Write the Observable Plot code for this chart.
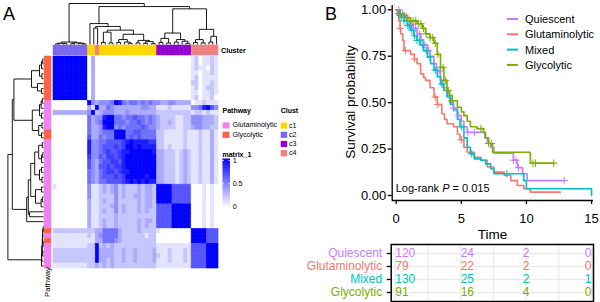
<!DOCTYPE html>
<html><head><meta charset="utf-8">
<script src="https://cdn.jsdelivr.net/npm/d3@7"></script>
<script src="https://cdn.jsdelivr.net/npm/@observablehq/plot@0.6"></script>
<style>
body{margin:0;background:#fff;}
#fig{position:relative;width:600px;height:302px;overflow:hidden;font-family:"Liberation Sans",Arial,Helvetica,sans-serif;background:#fff;}
</style></head><body><div id="fig"></div>
<script>
// ---------------- Panel A data ----------------
// consensus matrix, digits 0-9 = consensus value x 9; column groups: c2 | c1 | c4 | c1 | c3 | c4
const heatRows = [
"999999999 03 0 000000000000000 000000000 1201121",
"999999999 03 0 000000000000000 000000000 1201121",
"999999999 03 0 000000000000000 000000000 1211021",
"999999999 03 0 000000000000000 000000000 1101121",
"999999999 03 0 000000000000000 000000000 1201111",
"999999999 03 0 000000000000000 000000000 2201121",
"999999999 03 0 000000000000000 000000000 1201221",
"999999999 03 0 000000000000000 000000000 1101121",
"999999999 03 0 000000000000000 000000000 1201120",
"000000000 94 3 444598545545454 433443333 0112111",
"000000000 31 9 335433333334433 111211111 4458964",
"333333333 49 2 344433343333333 222222222 1221211",
"000000000 53 4 489955455655454 322221122 4443332",
"000000000 53 4 599955545565454 322321122 4443332",
"000000000 53 3 489945455556544 322221122 3443322",
"000000000 53 3 455599955665555 221111121 1121131",
"000000000 63 3 545599956565555 221111121 1121131",
"000000000 84 4 556666789888877 221111121 1121131",
"000000000 84 4 566676799898888 221211121 1121131",
"000000000 84 4 567667889999998 332221232 1121131",
"000000000 74 4 657767899999999 332221232 1121131",
"000000000 64 3 566776899999999 332221232 1121131",
"000000000 64 3 667677899999999 332221232 1121131",
"000000000 54 3 567767889999999 332221232 1121131",
"000000000 54 3 566676799999899 332221232 1121131",
"000000000 54 3 556666789898988 332221232 1121131",
"100000000 41 1 232342322232332 999966666 0001010",
"000000000 41 1 232342322232332 999966666 0001010",
"000000000 41 1 222242322332332 999966666 0001010",
"000000000 31 1 232242222232332 999966666 0001010",
"000000000 31 1 222342322232332 666699999 0001010",
"000000000 31 1 232242322232322 666699999 0001010",
"000000000 31 1 222232222222222 666699999 0001010",
"000000000 31 1 232232222232332 666699999 0001010",
"000000000 31 1 232232222232322 666699999 0001010",
"222222222 22 3 355553222232222 100000000 9999666",
"111111111 21 3 455553222222122 000000000 9999666",
"111111111 11 3 355543222222222 000000000 9999666",
"111111111 22 9 232322222222222 111111111 6666999",
"222222222 22 9 333322322322223 111211121 6666999",
"222222222 22 9 333322322322223 211211121 6666999",
"222222222 22 9 332322322322223 111211121 6666999",
"111111111 22 3 232322222222222 111111111 6666999"
];
const colCluster = ["c2","c2","c2","c2","c2","c2","c2","c2","c2","c1","c1","c4",
  "c1","c1","c1","c1","c1","c1","c1","c1","c1","c1","c1","c1","c1","c1","c1",
  "c3","c3","c3","c3","c3","c3","c3","c3","c3",
  "c4","c4","c4","c4","c4","c4","c4"];
const rowPathway = ["Glycolytic","Glycolytic","Glycolytic","Glycolytic","Glycolytic","Glycolytic","Glycolytic","Glycolytic","Glycolytic",
  "Glutaminolytic","Glutaminolytic","Glutaminolytic","Glutaminolytic","Glutaminolytic","Glutaminolytic",
  "Glycolytic","Glycolytic",
  "Glutaminolytic","Glutaminolytic","Glutaminolytic","Glutaminolytic","Glutaminolytic","Glutaminolytic","Glutaminolytic","Glutaminolytic","Glutaminolytic",
  "Glutaminolytic","Glutaminolytic","Glutaminolytic","Glutaminolytic","Glutaminolytic","Glutaminolytic","Glutaminolytic","Glutaminolytic","Glutaminolytic",
  "Glycolytic","Glutaminolytic","Glycolytic",
  "Glutaminolytic","Glutaminolytic","Glutaminolytic","Glutaminolytic","Glutaminolytic"];
// dendrograms: [height, left, right]; numbers are leaf indices
const colTree = [1.0,
  [0.06, [0.03, [0.015, 0, 1], [0.02, 2, 3]], [0.04, [0.02, 4, 5], [0.03, 6, [0.015, 7, 8]]]],
  [0.925,
    [0.51, 9, [0.44, [0.40, 10, 11],
      [0.35, [0.3, [0.05, 12, 13], [0.04, 14, 15]],
             [0.25, [0.12, [0.05, 16, 17], [0.06, 18, [0.03, 19, 20]]],
                    [0.1, [0.04, 21, 22], [0.07, [0.03, 23, 24], [0.02, 25, 26]]]]]]],
    [0.87,
      [0.28, [0.15, [0.05, 27, 28], [0.04, 29, 30]], [0.12, [0.06, 31, 32], [0.08, 33, [0.03, 34, 35]]]],
      [0.37, [0.12, [0.05, 36, 37], [0.04, 38, 39]], [0.2, [0.06, 40, 41], 42]]]]];
const rowTree = [0.89,
  [0.05, 0, [0.045, 1, [0.03, [0.02, 2, 3], [0.025, [0.01, 4, 5], [0.02, 6, [0.01, 7, 8]]]]]],
  [0.78,
    [0.42, 9, [0.38, [0.35, 10, 11],
      [0.32, [0.2, [0.06, 12, [0.03, 13, 14]], [0.05, 15, 16]],
             [0.22, [0.1, [0.04, 17, 18], [0.05, 19, 20]], [0.12, [0.05, 21, [0.02, 22, 23]], [0.03, 24, 25]]]]]],
    [0.74,
      [0.28, [0.12, [0.05, 26, 27], [0.04, 28, 29]], [0.1, [0.05, 30, 31], [0.06, 32, [0.03, 33, 34]]]],
      [0.3, [0.15, [0.05, 35, 36], 37], [0.1, [0.04, 38, 39], [0.05, 40, [0.02, 41, 42]]]]]]];
const clusterNames = ["c1","c2","c3","c4"];
const clusterColors = ["#FFD700","#7B68EE","#9400D3","#F08080"];
const pathwayNames = ["Glutaminolytic","Glycolytic"];
const pathwayColors = ["#EE82EE","#FF6347"];
const matrixBreaks = [0, 0.5, 1];

// ---------------- Panel B data ----------------
const groups = ["Quiescent","Glutaminolytic","Mixed","Glycolytic"];
const palette = ["#C77CFF","#F8766D","#00BFC4","#7CAE00"];
const kmQuiescent = [[0,1],[0.3,0.98],[0.6,0.96],[0.85,0.94],[1.1,0.92],[1.3,0.9],[1.6,0.87],[1.9,0.84],[2.1,0.81],[2.4,0.78],[2.6,0.75],[2.9,0.71],[3.1,0.67],[3.4,0.62],[3.6,0.58],[3.9,0.54],[4.1,0.5],[4.4,0.47],[4.7,0.43],[5.0,0.4],[5.2,0.37],[5.45,0.34],[6.8,0.31],[7.0,0.28],[7.25,0.26],[7.5,0.228],[9.0,0.19],[9.3,0.15],[9.7,0.117],[10.06,0.08],[12.9,0.08]];
const kmGlutaminolytic = [[0,1],[0.1,0.97],[0.2,0.94],[0.3,0.9],[0.35,0.87],[0.5,0.835],[0.6,0.78],[1.1,0.76],[1.4,0.735],[1.6,0.71],[1.87,0.655],[2.1,0.635],[2.25,0.62],[2.6,0.58],[2.9,0.53],[3.15,0.49],[3.5,0.44],[3.7,0.41],[3.9,0.386],[4.4,0.37],[4.7,0.33],[4.9,0.3],[5.2,0.26],[5.45,0.233],[6.0,0.206],[6.5,0.19],[7.0,0.153],[7.5,0.126],[8.3,0.108],[8.8,0.08],[9.3,0.054],[9.8,0.036],[10.3,0.018],[12.6,0.018]];
const kmMixed = [[0,1],[0.2,0.98],[0.4,0.96],[0.6,0.94],[0.85,0.915],[1.1,0.89],[1.35,0.86],[1.6,0.835],[1.85,0.81],[2.1,0.78],[2.4,0.745],[2.64,0.71],[2.9,0.675],[3.15,0.64],[3.4,0.6],[3.66,0.565],[3.9,0.53],[4.17,0.49],[4.4,0.46],[4.7,0.41],[4.9,0.37],[5.2,0.31],[5.45,0.26],[5.7,0.224],[6.0,0.197],[6.5,0.19],[6.86,0.17],[7.25,0.144],[7.5,0.117],[9.8,0.08],[10.0,0.036],[14.95,0.036],[15,0]];
const kmGlycolytic = [[0,1],[0.3,0.97],[0.7,0.955],[1.1,0.94],[1.6,0.925],[2.0,0.9],[2.25,0.87],[2.6,0.85],[2.9,0.82],[3.15,0.76],[3.4,0.69],[3.66,0.62],[3.9,0.565],[4.1,0.54],[4.3,0.51],[4.7,0.475],[5.0,0.45],[5.2,0.43],[5.45,0.4],[5.7,0.37],[6.2,0.36],[6.7,0.34],[6.86,0.31],[7.1,0.28],[7.4,0.233],[10.3,0.174],[12.1,0.174]];
const censorQuiescent = [0.2,0.5,0.8,1.2,1.5,1.8,2.2,2.5,3.3,4.4,4.8,5.5,6.0,9.0,9.2,9.4,12.9];
const censorGlutaminolytic = [0.3,0.7,1.4,3.0,3.2,5.0];
const censorMixed = [0.2,0.4,0.6,0.9,1.0,1.2,1.4,1.6,1.8,2.0,2.3,2.6,3.0,3.5,5.0,5.8,8.5];
const censorGlycolytic = [0.3,0.6,0.9,1.1,1.3,1.5,1.7,1.9,2.1,2.3,2.6,2.8,3.0,3.2,3.4,3.6,3.8,4.0,4.3,6.5,7.1,7.3,10.5,10.7,12.1];
const riskTimes = [0,5,10,15];
const riskQuiescent = [120,24,2,0];
const riskGlutaminolytic = [79,22,2,0];
const riskMixed = [130,25,2,1];
const riskGlycolytic = [91,16,4,0];
const xTicks = [0,5,10,15];
const yTicks = [0,0.25,0.5,0.75,1];
const tableGridTimes = [0,2.5,5,7.5,10,12.5,15];
const pValueText = "0.015";

// ---------------- build ----------------
const FONT = '"Liberation Sans",Arial,Helvetica,sans-serif';
const fig = document.getElementById("fig");
function place(node, left, top){node.style.position="absolute";node.style.left=left+"px";node.style.top=top+"px";fig.appendChild(node);}
const N = heatRows.length;
const idx = d3.range(N);
const cells = [];
heatRows.forEach((r, i) => r.replace(/ /g,"").split("").forEach((ch, j) => cells.push({row:i, col:j, v:+ch/9})));
function dendroSegs(tree){
  const segs=[];
  (function walk(n){
    if (typeof n === "number") return {p:n, h:0};
    const [h,a,b]=n; const A=walk(a), B=walk(b);
    segs.push({p1:A.p,h1:A.h,p2:A.p,h2:h},{p1:B.p,h1:B.h,p2:B.p,h2:h},{p1:A.p,h1:h,p2:B.p,h2:h});
    return {p:(A.p+B.p)/2, h};
  })(tree);
  return segs;
}
const bg = {background:"transparent", overflow:"visible"};

// heatmap
place(Plot.plot({width:165,height:212,margin:0,style:bg,
  x:{type:"band",domain:idx,padding:0,axis:null},
  y:{type:"band",domain:idx,padding:0,axis:null},
  color:{type:"linear",domain:[0,1],range:["#ffffff","#0000ff"]},
  marks:[Plot.cell(cells,{x:"col",y:"row",fill:"v",stroke:"v",strokeWidth:0.6})]}),53,56);
// top annotation
place(Plot.plot({width:165,height:10,margin:0,style:bg,
  x:{type:"band",domain:idx,padding:0,axis:null},
  color:{domain:clusterNames,range:clusterColors},
  marks:[Plot.cell(colCluster.map((c,i)=>({i,c})),{x:"i",fill:"c",stroke:"c",strokeWidth:0.5})]}),53,45);
// left annotation
place(Plot.plot({width:7,height:212,margin:0,style:bg,
  y:{type:"band",domain:idx,padding:0,axis:null},
  color:{domain:pathwayNames,range:pathwayColors},
  marks:[Plot.cell(rowPathway.map((p,i)=>({i,p})),{y:"i",fill:"p",stroke:"p",strokeWidth:0.5})]}),44,56);
// top dendrogram
place(Plot.plot({width:165,height:44,marginLeft:0,marginRight:0,marginTop:3,marginBottom:0,style:bg,
  x:{domain:[-0.5,N-0.5],axis:null}, y:{domain:[0,1],axis:null},
  marks:[Plot.link(dendroSegs(colTree),{x1:"p1",y1:"h1",x2:"p2",y2:"h2",stroke:"black",strokeWidth:0.9})]}),53,0);
// left dendrogram
place(Plot.plot({width:44,height:212,marginLeft:3,marginRight:1,marginTop:0,marginBottom:0,style:bg,
  x:{domain:[1,0],axis:null}, y:{domain:[-0.5,N-0.5],axis:null},
  marks:[Plot.link(dendroSegs(rowTree),{x1:"h1",y1:"p1",x2:"h2",y2:"p2",stroke:"black",strokeWidth:0.9})]}),0,56);

// KM
const kmCurves = [kmQuiescent,kmGlutaminolytic,kmMixed,kmGlycolytic];
const censors = [censorQuiescent,censorGlutaminolytic,censorMixed,censorGlycolytic];
const risks = [riskQuiescent,riskGlutaminolytic,riskMixed,riskGlycolytic];
const kmRows = kmCurves.flatMap((c,g)=>c.map(([t,s])=>({group:groups[g],t,s})));
function survAt(curve,t){let s=1;for(const [tt,ss] of curve) if(tt<=t) s=ss; return s;}
const censorRows = censors.flatMap((c,g)=>c.map(t=>({group:groups[g],t,s:survAt(kmCurves[g],t)})));
const xDomain=[-0.307,15.15], yDomain=[-0.027,1.023];
const textStyle = {background:"transparent",overflow:"visible",fontFamily:FONT,fontSize:"13px",color:"black"};
place(Plot.plot({width:300,height:240,marginLeft:91.7,marginRight:7,marginTop:5,marginBottom:40,style:textStyle,
  x:{domain:xDomain}, y:{domain:yDomain},
  color:{domain:groups,range:palette},
  marks:[
    Plot.line(kmRows,{x:"t",y:"s",z:"group",stroke:"group",curve:"step-after",strokeWidth:1.6}),
    Plot.dot(censorRows,{x:"t",y:"s",stroke:"group",symbol:"plus",r:2.5,strokeWidth:1}),
    Plot.ruleX([xDomain[0]],{stroke:"black",strokeWidth:1.3}),
    Plot.ruleY([yDomain[0]],{stroke:"black",strokeWidth:1.3}),
    Plot.axisX({ticks:xTicks,tickSize:4,tickPadding:9,strokeWidth:1.3,label:null}),
    Plot.axisY({ticks:yTicks,tickSize:4,tickPadding:2,tickFormat:d3.format(".2f"),strokeWidth:1.3,label:null})
  ]}),300,0);
// risk table
const riskRows = risks.flatMap((r,g)=>r.map((n,k)=>({group:groups[g],t:riskTimes[k],k,n})));
place(Plot.plot({width:300,height:62,marginLeft:90.7,marginRight:7,marginTop:4,marginBottom:1,style:textStyle,
  x:{domain:xDomain,axis:null}, y:{type:"point",domain:groups,padding:0.6},
  color:{domain:groups,range:palette},
  marks:[
    Plot.gridX(tableGridTimes,{stroke:"#EBEBEB",strokeOpacity:1,strokeWidth:1.3}),
    Plot.gridY(groups,{stroke:"#EBEBEB",strokeOpacity:1,strokeWidth:1.3}),
    Plot.text(riskRows.filter(d=>d.k<2),{x:"t",y:"group",text:"n",fill:"group",textAnchor:"start",fontSize:12}),
    Plot.text(riskRows.filter(d=>d.k===2),{x:"t",y:"group",text:"n",fill:"group",textAnchor:"middle",fontSize:12}),
    Plot.text(riskRows.filter(d=>d.k===3),{x:"t",y:"group",text:"n",fill:"group",textAnchor:"end",fontSize:12}),
    Plot.text(groups,{y:d=>d,text:d=>d,fill:d=>d,frameAnchor:"left",textAnchor:"end",dx:-9,fontSize:12}),
    Plot.axisY({tickSize:4,tickFormat:()=>"",strokeWidth:1.3,label:null}),
    Plot.frame({stroke:"black",strokeWidth:1.5})
  ]}),300,240);

// overlay labels & legends
const svg = d3.create("svg").attr("width",600).attr("height",302)
  .style("position","absolute").style("left","0px").style("top","0px").style("font-family",FONT);
function txt(x,y,s,size,opts={}){
  const t=svg.append("text").attr("x",x).attr("y",y).attr("font-size",size).attr("dominant-baseline",opts.baseline||"central")
    .attr("text-anchor",opts.anchor||"start").attr("fill",opts.fill||"black").text(s);
  if(opts.bold) t.attr("font-weight","bold");
  if(opts.transform) t.attr("transform",opts.transform).attr("x",0).attr("y",0);
  return t;
}
txt(3,20,"A",18,{baseline:"alphabetic"});
txt(325,20,"B",18,{baseline:"alphabetic"});
txt(221,50,"Cluster",7.2,{bold:true});
txt(0,0,"Pathway",7.8,{anchor:"end",transform:"translate(47.8,267) rotate(-90)"});
// Pathway legend
txt(222.5,110.5,"Pathway",7,{bold:true});
pathwayNames.forEach((p,i)=>{
  svg.append("rect").attr("x",222.5).attr("y",122.3+9.4*i).attr("width",7).attr("height",6.2).attr("fill",pathwayColors[i]);
  txt(232.5,125.4+9.4*i,p,7.1);
});
// Cluster legend
txt(280.7,110.5,"Clust",7,{bold:true});
clusterNames.forEach((c,i)=>{
  svg.append("rect").attr("x",280.7).attr("y",122.5+9.2*i).attr("width",6.5).attr("height",6.2).attr("fill",clusterColors[i]);
  txt(289,125.6+9.2*i,c,7.1);
});
// matrix legend
txt(222.5,154,"matrix_1",7,{bold:true});
const ramp = d3.interpolateRgb("#ffffff","#0000ff");
const grad = svg.append("defs").append("linearGradient").attr("id","mgrad").attr("x1",0).attr("y1",1).attr("x2",0).attr("y2",0);
d3.range(0,1.0001,0.1).forEach(v=>grad.append("stop").attr("offset",v).attr("stop-color",ramp(v)));
const gy = d3.scaleLinear().domain([0,1]).range([207,160.5]);
svg.append("rect").attr("x",222.5).attr("y",158.5).attr("width",7.5).attr("height",49).attr("fill","url(#mgrad)");
matrixBreaks.forEach(b=>{
  svg.append("line").attr("x1",222.5).attr("x2",224).attr("y1",gy(b)).attr("y2",gy(b)).attr("stroke","white").attr("stroke-width",0.8);
  svg.append("line").attr("x1",228.5).attr("x2",230).attr("y1",gy(b)).attr("y2",gy(b)).attr("stroke","white").attr("stroke-width",0.8);
  txt(232.7,gy(b),String(b),7.1);
});
// Panel B labels
txt(0,0,"Survival probability",13.5,{anchor:"middle",transform:"translate(350,102) rotate(-90)"});
txt(492.5,234,"Time",13.5,{anchor:"middle"});
const lr = txt(395.7,188,"Log-rank ",11);
lr.append("tspan").attr("font-style","italic").text("P");
lr.append("tspan").text(" = "+pValueText);
groups.forEach((g,i)=>{
  svg.append("line").attr("x1",507).attr("x2",518).attr("y1",19+15.3*i).attr("y2",19+15.3*i).attr("stroke",palette[i]).attr("stroke-width",2);
  txt(525,19+15.3*i,g,11);
});
fig.appendChild(svg.node());
</script></body></html>
